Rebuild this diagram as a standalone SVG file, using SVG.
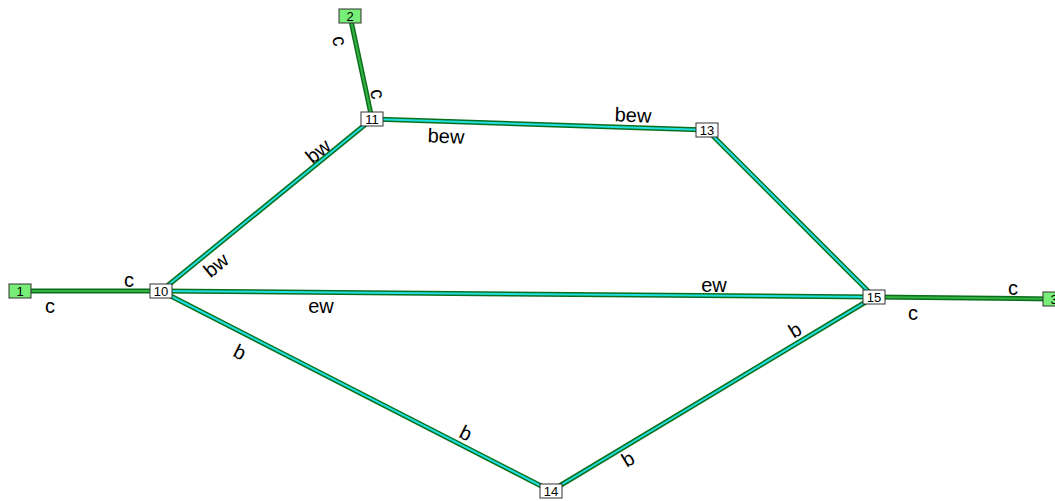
<svg xmlns="http://www.w3.org/2000/svg" width="1055" height="501" viewBox="0 0 1055 501">
<style>
.o{stroke:#0b6e1e;stroke-width:5;fill:none}
.ic{stroke:#1fe0e0;stroke-width:2;fill:none}
.ig{stroke:#33b33f;stroke-width:2;fill:none}
.nb{fill:#fff;stroke:#333;stroke-width:1}
.ng{fill:#77ee77;stroke:#333;stroke-width:1}
.nt{font-family:"Liberation Sans",Arial,sans-serif;font-size:13px;text-anchor:middle;dominant-baseline:central;fill:#000}
.l{font-family:"Liberation Sans",Arial,sans-serif;font-size:20px;text-anchor:middle;dominant-baseline:central;fill:#000}
</style>
<rect width="1055" height="501" fill="#fff"/>
<g id="connectors">
<g id="e1-10"><line class="o" x1="20" y1="291" x2="161" y2="291"/><line class="ig" x1="20" y1="291" x2="161" y2="291"/></g>
<g id="e2-11"><line class="o" x1="350" y1="16" x2="372" y2="119"/><line class="ig" x1="350" y1="16" x2="372" y2="119"/></g>
<g id="e15-3"><line class="o" x1="874" y1="297" x2="1053" y2="299"/><line class="ig" x1="874" y1="297" x2="1053" y2="299"/></g>
<g id="e10-11"><line class="o" x1="161" y1="291" x2="372" y2="119"/><line class="ic" x1="161" y1="291" x2="372" y2="119"/></g>
<g id="e11-13"><line class="o" x1="372" y1="119" x2="707" y2="130"/><line class="ic" x1="372" y1="119" x2="707" y2="130"/></g>
<g id="e10-15"><line class="o" x1="161" y1="291" x2="874" y2="297"/><line class="ic" x1="161" y1="291" x2="874" y2="297"/></g>
<g id="e10-14"><line class="o" x1="161" y1="291" x2="551" y2="491"/><line class="ic" x1="161" y1="291" x2="551" y2="491"/></g>
<g id="e13-15"><line class="o" x1="707" y1="130" x2="874" y2="297"/><line class="ic" x1="707" y1="130" x2="874" y2="297"/></g>
<g id="e14-15"><line class="o" x1="551" y1="491" x2="874" y2="297"/><line class="ic" x1="551" y1="491" x2="874" y2="297"/></g>
<text class="l" x="129" y="280">c</text>
<text class="l" x="50" y="306">c</text>
<text class="l" x="1013" y="288">c</text>
<text class="l" x="913" y="313">c</text>
<text class="l" transform="translate(340,41) rotate(78)">c</text>
<text class="l" transform="translate(378,94) rotate(78)">c</text>
<text class="l" transform="translate(318,151) rotate(-39)">bw</text>
<text class="l" transform="translate(216,265) rotate(-39)">bw</text>
<text class="l" transform="translate(446,136) rotate(2)">bew</text>
<text class="l" transform="translate(633,115) rotate(2)">bew</text>
<text class="l" x="321" y="306">ew</text>
<text class="l" x="714" y="285">ew</text>
<text class="l" transform="translate(240,352) rotate(27)">b</text>
<text class="l" transform="translate(466,433) rotate(27)">b</text>
<text class="l" transform="translate(628,459) rotate(-31)">b</text>
<text class="l" transform="translate(795,330) rotate(-31)">b</text>
</g>
<g id="n1"><rect class="ng" x="9" y="284" width="22" height="14"/><text class="nt" x="20" y="291">1</text></g>
<g id="n2"><rect class="ng" x="339" y="9" width="22" height="14"/><text class="nt" x="350" y="16">2</text></g>
<g id="n3"><rect class="ng" x="1043" y="292" width="22" height="14"/><text class="nt" x="1054" y="299">3</text></g>
<g id="n10"><rect class="nb" x="150" y="284" width="22" height="14"/><text class="nt" x="161" y="291">10</text></g>
<g id="n11"><rect class="nb" x="361" y="112" width="22" height="14"/><text class="nt" x="372" y="119">11</text></g>
<g id="n13"><rect class="nb" x="696" y="123" width="22" height="14"/><text class="nt" x="707" y="130">13</text></g>
<g id="n14"><rect class="nb" x="540" y="484" width="22" height="14"/><text class="nt" x="551" y="491">14</text></g>
<g id="n15"><rect class="nb" x="863" y="290" width="22" height="14"/><text class="nt" x="874" y="297">15</text></g>
</svg>
